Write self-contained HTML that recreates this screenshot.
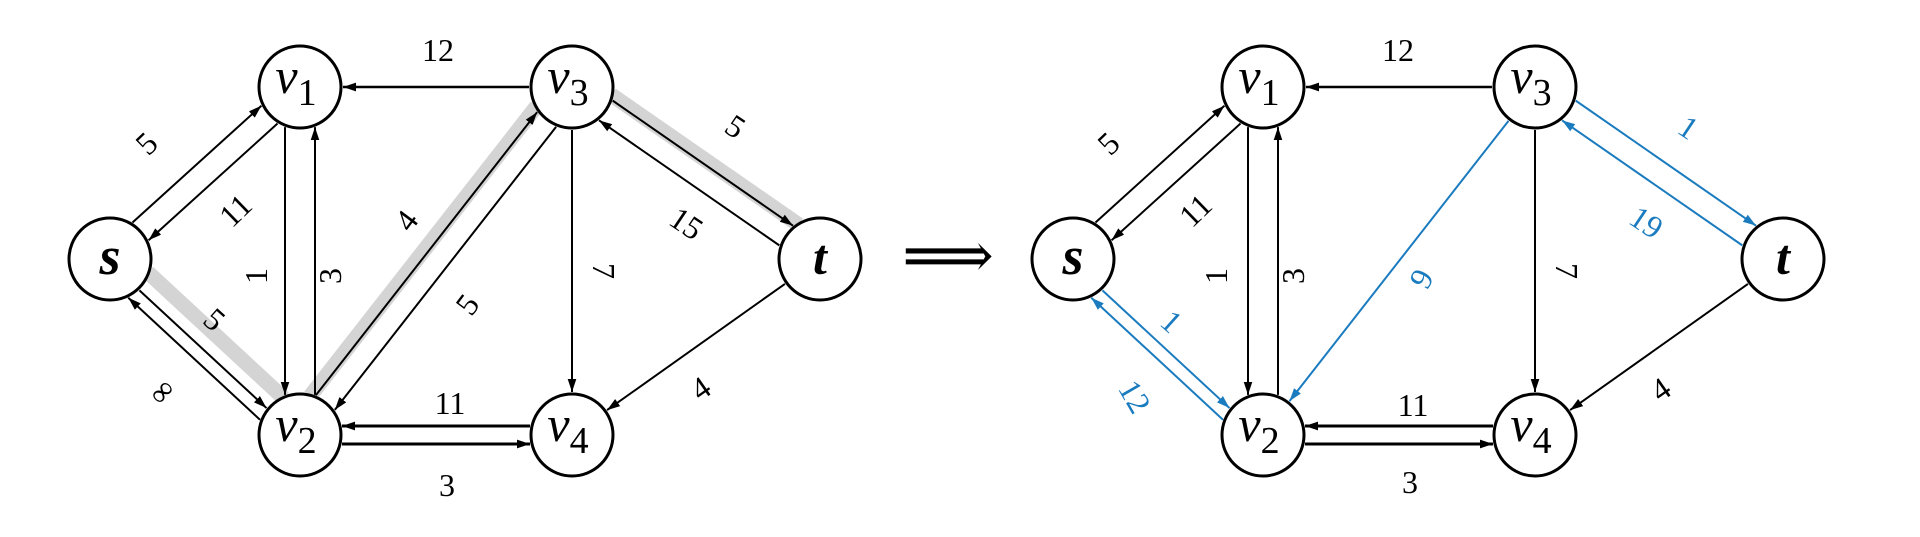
<!DOCTYPE html>
<html><head><meta charset="utf-8"><style>
html,body{margin:0;padding:0;background:#fff;width:1920px;height:537px;overflow:hidden}
svg{display:block}
svg text{font-family:'Liberation Serif','Times New Roman','DejaVu Serif',serif}
</style></head><body>
<svg id="g" width="1920" height="537" viewBox="0 0 1920 537" xmlns="http://www.w3.org/2000/svg">
<defs>
<marker id="ab" viewBox="0 0 12 8" refX="12" refY="4" markerWidth="13" markerHeight="9" markerUnits="userSpaceOnUse" orient="auto"><path d="M0,0 L12,4 L0,8 z" fill="#000"/></marker>
<marker id="abl" viewBox="0 0 12 8" refX="12" refY="4" markerWidth="13" markerHeight="9" markerUnits="userSpaceOnUse" orient="auto"><path d="M0,0 L12,4 L0,8 z" fill="#1a7bbf"/></marker>
</defs>
<text x="948" y="277" font-size="64" text-anchor="middle">⟹</text>
</svg>
<script>
const nodeNames = ['s','v1','v2','v3','v4','t'];
const nodeX = [110,300,300,572,572,820];
const nodeY = [259,87,435,87,435,259];
const graphOffsets = [0,963];
const leftEdges = [[0,1,-12,2,'k'],[1,0,-12,2,'k'],[1,2,15,2,'k'],[2,1,15,2,'k'],[3,1,0,2.5,'k'],
 [2,3,-12,2,'k'],[3,2,-12,2,'k'],[3,5,-12,2,'k'],[5,3,-12,2,'k'],[3,4,0,2,'k'],[5,4,0,2,'k'],
 [4,2,9,3,'k'],[2,4,9,3,'k'],[0,2,3,2,'k'],[2,0,-16,2,'k']];
const rightEdges = [[0,1,-12,2,'k'],[1,0,-12,2,'k'],[1,2,15,2,'k'],[2,1,15,2,'k'],[3,1,0,2.5,'k'],
 [3,2,0,2,'b'],[3,5,-12,2,'b'],[5,3,-12,2,'b'],[3,4,0,2,'k'],[5,4,0,2,'k'],
 [4,2,9,3,'k'],[2,4,9,3,'k'],[0,2,3,2,'b'],[2,0,-16,2,'b']];
const highlights = [[0,2],[2,3],[3,5]];
const leftLabels = [['5',147,144,-44],['11',236,211,-44],['1',257,276,-90],['3',331,276,-90],['4',407,221,-53],
 ['5',468,305,-53],['12',438,51,0],['5',735,127,34],['15',686,224,34],['7',603,271,90],['4',701,389,-35],
 ['11',450,404,0],['3',447,486,0],['5',214,320,42],['∞',162,392,-48]];
const rightLabels = [['5',1109,144,-44,'k'],['11',1196,211,-44,'k'],['1',1217,276,-90,'k'],['3',1294,276,-90,'k'],
 ['12',1398,51,0,'k'],['9',1422,279,-62,'b'],['7',1566,271,90,'k'],['1',1688,128,34,'b'],['19',1646,223,34,'b'],
 ['4',1661,390,-35,'k'],['11',1413,406,0,'k'],['3',1410,483,0,'k'],['1',1171,322,42,'b'],['12',1134,397,60,'b']];
const R = 41, NS='http://www.w3.org/2000/svg';
const svg = document.getElementById('g');
const col = c => c==='b' ? '#1a7bbf' : '#000';
function mk(t, a){const e=document.createElementNS(NS,t);for(const k in a)e.setAttribute(k,a[k]);svg.appendChild(e);return e;}
function drawHighlights(ox){
  highlights.forEach(h=>{
    const x1=nodeX[h[0]]+ox,y1=nodeY[h[0]],x2=nodeX[h[1]]+ox,y2=nodeY[h[1]];
    const dx=x2-x1,dy=y2-y1,L=Math.hypot(dx,dy),ux=dx/L,uy=dy/L,nx=-uy,ny=ux;
    const o=-16, a=R-4;
    const l=mk('line',{x1:x1+ux*a+nx*o,y1:y1+uy*a+ny*o,x2:x2-ux*a+nx*o,y2:y2-uy*a+ny*o,stroke:'#d4d4d4','stroke-width':15});
    
    
  });
}
function drawEdges(edges, ox){
  edges.forEach(e=>{
    const x1=nodeX[e[0]]+ox,y1=nodeY[e[0]],x2=nodeX[e[1]]+ox,y2=nodeY[e[1]];
    const dx=x2-x1,dy=y2-y1,L=Math.hypot(dx,dy),ux=dx/L,uy=dy/L,nx=-uy,ny=ux,o=e[2];
    const s=Math.sqrt(Math.max(R*R-o*o,0))+2;
    const l=mk('line',{x1:x1+ux*s+nx*o,y1:y1+uy*s+ny*o,x2:x2-ux*s+nx*o,y2:y2-uy*s+ny*o,
      stroke:col(e[4]),'stroke-width':e[3],'marker-end':e[4]==='b'?'url(#abl)':'url(#ab)'});
    
    
  });
}
function drawLabels(labels){
  labels.forEach(b=>{
    const t=mk('text',{x:b[1],y:b[2]+10,'font-size':32,'text-anchor':'middle',
      fill:col(b[4]||'k'),transform:'rotate('+b[3]+' '+b[1]+' '+b[2]+')'});
    t.textContent=b[0];
    
    
  });
}
function drawNodes(ox){
  nodeNames.forEach((n,i)=>{
    const cx=nodeX[i]+ox,cy=nodeY[i];
    const c=mk('circle',{cx:cx,cy:cy,r:R,fill:'#fff',stroke:'#000','stroke-width':3});
    
    
    const t=mk('text',{x:cx,y:cy+14,'text-anchor':'middle','font-style':'italic'});
    
    
    if(n.length===1){t.setAttribute('font-size',n==='s'?54:50);t.setAttribute('font-weight','bold');t.setAttribute('y',cy+15);t.textContent=n;}
    else{
      t.setAttribute('font-size',50);t.setAttribute('x',cx-4);t.setAttribute('y',cy+6);
      t.appendChild(document.createTextNode('v'));
      const sp=document.createElementNS(NS,'tspan');
      sp.setAttribute('font-style','normal');sp.setAttribute('font-size',38);sp.setAttribute('dy',12);
      sp.textContent=n.slice(1);t.appendChild(sp);
    }
  });
}
drawHighlights(graphOffsets[0]);
drawEdges(leftEdges, graphOffsets[0]);
drawEdges(rightEdges, graphOffsets[1]);
drawLabels(leftLabels);
drawLabels(rightLabels);
drawNodes(graphOffsets[0]);
drawNodes(graphOffsets[1]);
</script>
</body></html>
